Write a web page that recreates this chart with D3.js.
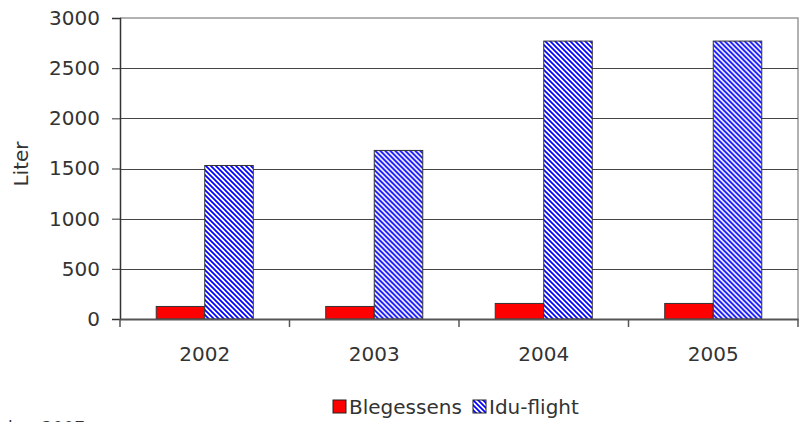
<!DOCTYPE html>
<html><head><meta charset="utf-8">
<script src="https://cdn.jsdelivr.net/npm/d3@7"></script>
<style>body{margin:0;background:#fff}svg{display:block}text{font-family:"DejaVu Sans",Verdana,sans-serif;fill:#333}</style>
</head><body>
<script>
const categories = ["2002","2003","2004","2005"];
const seriesNames = ["Blegessens","Idu-flight"];
const blegessens = [125, 125, 155, 155];
const iduFlight = [1530, 1680, 2770, 2770];
const yTicks = [0,500,1000,1500,2000,2500,3000];
const yLabel = "Liter";
const footnote = "ober 2007";

const W=804,H=422;
const m={l:120,r:6,t:18,b:103};
const svg=d3.select("body").append("svg").attr("width",W).attr("height",H);
const defs=svg.append("defs");
const pat=defs.append("pattern").attr("id","hatch").attr("patternUnits","userSpaceOnUse").attr("width",5).attr("height",5);
pat.append("rect").attr("width",5).attr("height",5).attr("fill","#fff");
pat.append("path").attr("d","M-1,-1L6,6M-1,4L1,6M4,-1L6,1").attr("stroke","#0000ff").attr("stroke-width",1.7);

const x0=d3.scaleBand().domain(categories).range([m.l,W-m.r]).padding(0);
const x1=d3.scaleBand().domain(seriesNames).range([0,x0.step()]).paddingInner(0).paddingOuter(0.747);
const y=d3.scaleLinear().domain([0,3000]).range([H-m.b,m.t]);
const fills={"Blegessens":"#ff0000","Idu-flight":"url(#hatch)"};
const data=categories.map((c,i)=>({c,vals:[{s:"Blegessens",v:blegessens[i]},{s:"Idu-flight",v:iduFlight[i]}]}));

svg.append("path").attr("d",`M${m.l},${m.t}H${W-m.r}V${H-m.b}`).attr("fill","none").attr("stroke","#999").attr("stroke-width",1.5);
svg.append("g").selectAll("line").data(yTicks.filter(t=>t>0&&t<3000)).join("line")
  .attr("x1",m.l).attr("x2",W-m.r).attr("y1",d=>Math.round(y(d))+0.5).attr("y2",d=>Math.round(y(d))+0.5)
  .attr("stroke","#444").attr("stroke-width",1);

const g=svg.append("g").selectAll("g").data(data).join("g").attr("transform",d=>`translate(${x0(d.c)},0)`);
g.selectAll("rect").data(d=>d.vals).join("rect")
  .attr("x",d=>x1(d.s)).attr("width",x1.bandwidth())
  .attr("y",d=>y(d.v)).attr("height",d=>y(0)-y(d.v))
  .attr("fill",d=>fills[d.s]).attr("stroke","#333").attr("stroke-width",1);

const ya=svg.append("g").attr("transform",`translate(${m.l},0)`)
  .call(d3.axisLeft(y).tickValues(yTicks).tickFormat(d3.format("d")).tickSize(8).tickPadding(12));
ya.select(".domain").attr("stroke","#333").attr("stroke-width",1.5);
ya.selectAll(".tick line").attr("stroke","#333");
ya.selectAll("text").style("font-size","20px").attr("fill","#333");

const xa=svg.append("g").attr("transform",`translate(0,${H-m.b})`)
  .call(d3.axisBottom(x0).tickSize(0).tickPadding(28));
xa.select(".domain").attr("stroke","#555").attr("stroke-width",2);
xa.selectAll("text").style("font-size","20px").attr("fill","#333");
const bounds=categories.map(c=>x0(c)).concat([x0(categories[categories.length-1])+x0.step()]);
xa.selectAll(".bt").data(bounds).join("line").attr("class","bt")
  .attr("x1",d=>d).attr("x2",d=>d).attr("y1",0).attr("y2",8).attr("stroke","#555").attr("stroke-width",1.5);

svg.append("text").attr("transform",`translate(28,164) rotate(-90)`).attr("text-anchor","middle")
  .style("font-size","20px").text(yLabel);

const lg=svg.append("g");
const legendItems=[{s:"Blegessens",x:333},{s:"Idu-flight",x:473}];
const li=lg.selectAll("g").data(legendItems).join("g").attr("transform",d=>`translate(${d.x},400)`);
li.append("rect").attr("width",13).attr("height",13).attr("fill",d=>fills[d.s]).attr("stroke","#222").attr("stroke-width",1);
li.append("text").attr("x",16).attr("y",14).style("font-size","20px").text(d=>d.s);

svg.append("text").attr("x",85).attr("y",434).attr("text-anchor","end").style("font-size","17px").text(footnote);
</script>
</body></html>
